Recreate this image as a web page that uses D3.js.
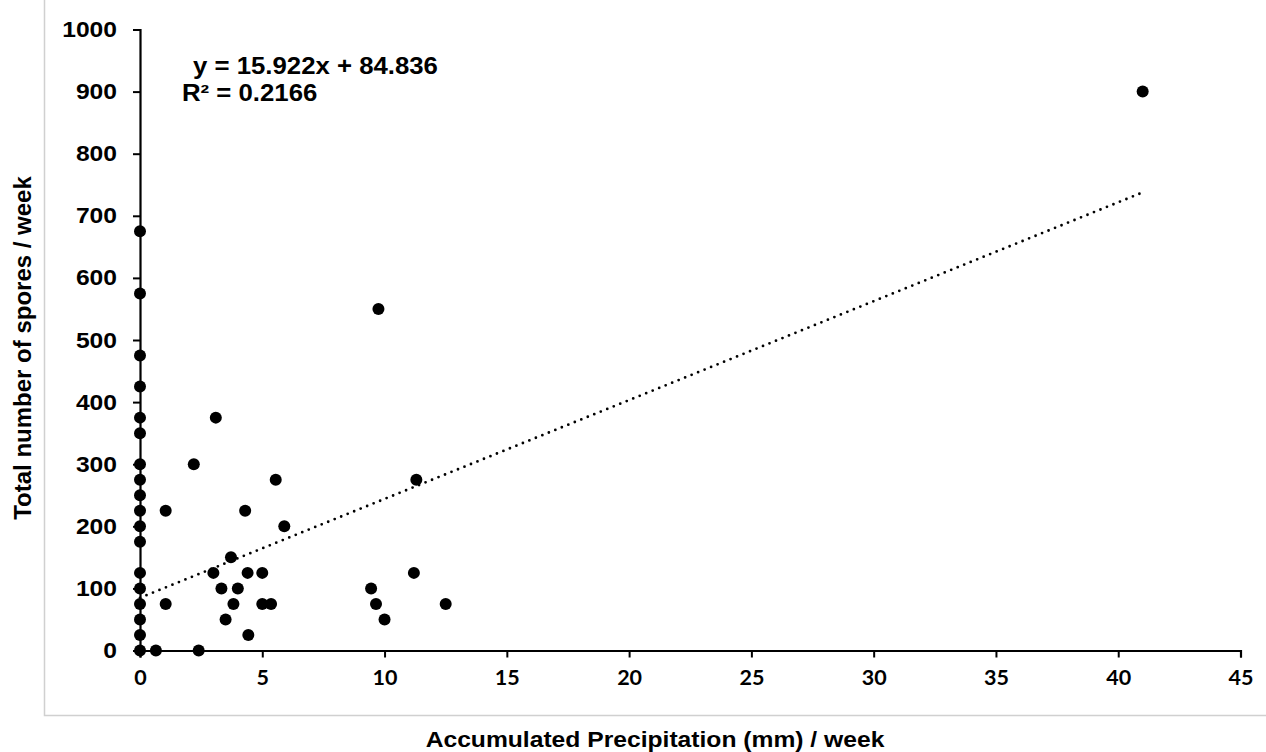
<!DOCTYPE html>
<html>
<head>
<meta charset="utf-8">
<script src="https://cdn.jsdelivr.net/npm/d3@7"></script>
<style>
html,body{margin:0;padding:0;background:#fff;}
svg{display:block;}
</style>
</head>
<body>
<svg id="chart" width="1266" height="752"></svg>
<script>
// Data
const precipitation = [
  0,0,0,0,0,0,0,0,0,0,0,0,0,0,0,0,0,0,
  0.65, 2.4, 1.05, 1.05, 2.2, 3.1, 4.3, 5.55, 5.9, 3.72, 3.0, 4.4, 5.0,
  3.33, 4.0, 3.82, 5.0, 5.36, 3.5, 4.43,
  9.45, 9.65, 10.0, 11.2, 11.3, 12.5, 9.75, 41.0
];
const spores = [
  675,575,475,425,375,350,300,275,250,225,200,175,125,100,75,50,25,0,
  0, 0, 225, 75, 300, 375, 225, 275, 200, 150, 125, 125, 125,
  100, 100, 75, 75, 75, 50, 25,
  100, 75, 50, 125, 275, 75, 550, 900
];
const xTicks = [0,5,10,15,20,25,30,35,40,45];
const yTicks = [0,100,200,300,400,500,600,700,800,900,1000];
const trendSlope = 15.922;
const trendIntercept = 84.836;
const trendRange = [0, 41];
const equationText = "y = 15.922x + 84.836";
const r2Text = "R² = 0.2166";
const xTitle = "Accumulated Precipitation (mm) / week";
const yTitle = "Total number of spores / week";

const STRETCH = 1.12; // reference text is slightly wide
function stretch(sel, k) {
  sel.each(function() {
    const len = this.getComputedTextLength();
    d3.select(this).attr("textLength", len * k).attr("lengthAdjust", "spacingAndGlyphs");
  });
}

const svg = d3.select("#chart");

// light frame of the chart area
svg.append("path")
  .attr("d", "M44.5,0 V715.5 H1266")
  .attr("fill", "none")
  .attr("stroke", "#d0d0d0")
  .attr("stroke-width", 1.5);

const x = d3.scaleLinear().domain([0,45]).range([140,1240.5]);
const y = d3.scaleLinear().domain([0,1000]).range([650.5,29.5]);

// trendline
const trend = trendRange.map(v => [v, trendSlope*v + trendIntercept]);
svg.append("path")
  .datum(trend)
  .attr("d", d3.line().x(d => x(d[0])).y(d => y(d[1])))
  .attr("fill", "none")
  .attr("stroke", "#000")
  .attr("stroke-width", 2.8)
  .attr("stroke-linecap", "round")
  .attr("stroke-dasharray", "0,7");

// x axis
const xAxis = svg.append("g")
  .attr("transform", `translate(0,${y(0)})`)
  .call(d3.axisBottom(x).tickValues(xTicks).tickFormat(d3.format("d"))
    .tickSize(7).tickSizeOuter(7).tickPadding(12));
xAxis.select(".domain").attr("stroke", "#000").attr("stroke-width", 2.2);
xAxis.selectAll(".tick line").attr("stroke", "#000").attr("stroke-width", 2);
xAxis.selectAll(".tick text")
  .attr("font-family", "Lato, 'Liberation Sans', sans-serif")
  .attr("font-weight", "bold")
  .attr("font-size", 21.5)
  .attr("fill", "#000");

// y axis
const yAxis = svg.append("g")
  .attr("transform", `translate(${x(0)},0)`)
  .call(d3.axisLeft(y).tickValues(yTicks).tickFormat(d3.format("d"))
    .tickSize(7).tickSizeOuter(7).tickPadding(16));
yAxis.select(".domain").attr("stroke", "#000").attr("stroke-width", 2.2);
yAxis.selectAll(".tick line").attr("stroke", "#000").attr("stroke-width", 2);
yAxis.selectAll(".tick text")
  .attr("font-family", "'Liberation Sans', Arial, sans-serif")
  .attr("font-weight", "bold")
  .attr("font-size", 22)
  .attr("fill", "#000")
  .call(stretch, STRETCH);

// points
svg.append("g")
  .selectAll("circle")
  .data(precipitation.map((p,i) => [p, spores[i]]))
  .join("circle")
  .attr("cx", d => x(d[0]))
  .attr("cy", d => y(d[1]))
  .attr("r", 6)
  .attr("fill", "#000");

// equation labels
svg.append("text")
  .attr("x", 193).attr("y", 73.5)
  .attr("font-family", "'Liberation Sans', Arial, sans-serif")
  .attr("font-weight", "bold").attr("font-size", 23)
  .text(equationText)
  .call(stretch, STRETCH);
svg.append("text")
  .attr("x", 182).attr("y", 101)
  .attr("font-family", "'Liberation Sans', Arial, sans-serif")
  .attr("font-weight", "bold").attr("font-size", 23)
  .text(r2Text)
  .call(stretch, STRETCH);

// axis titles
svg.append("text")
  .attr("x", 655).attr("y", 747)
  .attr("text-anchor", "middle")
  .attr("font-family", "'Liberation Sans', Arial, sans-serif")
  .attr("font-weight", "bold").attr("font-size", 22)
  .text(xTitle)
  .call(stretch, STRETCH);
svg.append("text")
  .attr("transform", "translate(31,348) rotate(-90)")
  .attr("text-anchor", "middle")
  .attr("font-family", "'Liberation Sans', Arial, sans-serif")
  .attr("font-weight", "bold").attr("font-size", 24)
  .text(yTitle);
</script>
</body>
</html>
